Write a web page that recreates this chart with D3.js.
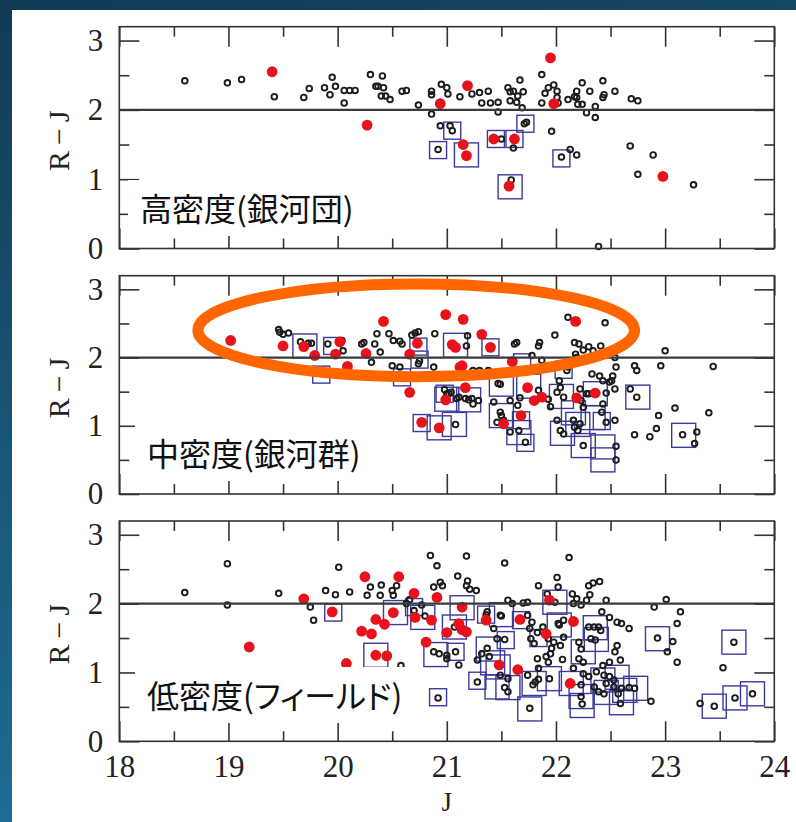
<!DOCTYPE html>
<html>
<head>
<meta charset="utf-8">
<script src="https://cdn.jsdelivr.net/npm/d3@7"></script>
<style>
  body { margin: 0; background: #fff; }
  svg { display: block; }
</style>
</head>
<body>
<script>
// ---- axis tick values and labels ----
const xTicks = [18, 19, 20, 21, 22, 23, 24];
const xMinorTicks = [18.5, 19.5, 20.5, 21.5, 22.5, 23.5];
const yTicks = [0, 1, 2, 3];
const yMinorTicks = [0.5, 1.5, 2.5];
const colourCut = 2;                       // R−J = 2 reference line
const xTitle = "J";
const yTitle = "R\u2009\u2212\u2009J";
const panelTitles = ["高密度(銀河団)", "中密度(銀河群)", "低密度(フィールド)"];

// ---- high density (clusters): [J, R−J] ----
const clusterGal = [
  [18.60,2.42],[18.99,2.39],[19.12,2.44],[19.42,2.19],[19.69,2.18],[19.74,2.31],[19.88,2.32],[19.93,2.22],
  [19.95,2.47],[19.98,2.34],[20.06,2.10],[20.06,2.28],[20.11,2.28],[20.16,2.28],[20.30,2.51],[20.35,2.34],
  [20.37,2.34],[20.41,2.49],[20.42,2.32],[20.40,2.20],[20.48,2.15],[20.44,2.20],[20.59,2.27],[20.63,2.28],
  [20.74,2.07],[20.86,2.27],[20.86,2.22],[20.86,1.94],[20.95,2.37],[21.00,2.32],[21.01,2.23],[20.94,1.77],
  [21.03,1.77],[21.05,1.70],[20.92,1.43],[21.12,2.19],[21.23,2.23],[21.30,2.25],[21.38,2.27],[21.32,2.10],
  [21.40,2.10],[21.47,2.11],[21.47,1.97],[21.56,2.32],[21.58,2.26],[21.61,2.27],[21.58,2.13],[21.64,2.11],
  [21.65,2.20],[21.67,2.43],[21.70,2.26],[21.69,2.03],[21.87,2.51],[21.93,2.32],[21.98,2.36],[21.90,2.24],
  [21.87,2.10],[22.01,2.27],[22.01,2.18],[22.02,2.10],[22.11,2.15],[22.19,2.18],[22.17,2.19],[22.19,2.27],
  [22.20,2.08],[22.24,2.39],[22.31,2.27],[22.24,2.08],[22.28,1.96],[22.36,2.05],[22.36,1.89],[22.43,2.42],
  [22.44,2.22],[22.43,2.18],[22.54,2.27],[22.69,2.16],[22.75,2.13],[21.96,1.69],[21.71,1.80],[21.73,1.82],
  [22.13,1.43],[22.19,1.35],[22.05,1.32],[21.61,1.45],[21.59,0.99],[21.50,1.58],[22.68,1.48],[22.89,1.35],
  [22.75,1.07],[23.26,0.92],[22.39,0.03]
];
const clusterRed = [
  [19.40,2.55],[20.27,1.78],[20.94,2.09],[21.19,2.35],[21.15,1.50],[21.18,1.34],[21.43,1.58],[21.62,1.58],
  [21.57,0.90],[21.98,2.09],[21.95,2.75],[22.98,1.04]
];
const clusterBox = [
  [20.92,1.42,"s"],[21.05,1.70,"s"],[21.18,1.35,"l"],[21.45,1.58,"s"],[21.62,1.58,"s"],[21.72,1.80,"s"],
  [22.05,1.30,"s"],[21.58,0.89,"l"]
];

// ---- intermediate density (groups) ----
const groupGal = [
  [19.46,2.41],[19.47,2.37],[19.50,2.34],[19.55,2.36],[19.66,2.23],[19.73,2.21],[19.76,2.21],[19.91,2.20],
  [20.04,2.25],[20.05,2.10],[20.22,2.20],[20.24,2.22],[20.39,2.08],[20.36,2.35],[20.47,2.35],[20.34,2.20],
  [20.31,1.93],[20.50,1.88],[20.57,1.86],[20.51,2.25],[20.57,2.24],[20.59,2.20],[20.68,2.33],[20.74,2.38],
  [20.71,2.36],[20.89,2.35],[20.75,1.95],[20.74,1.91],[20.88,1.86],[21.19,2.32],[21.18,2.17],[21.24,1.81],
  [21.30,1.81],[21.38,1.81],[20.98,1.53],[21.04,1.49],[21.09,1.40],[21.17,1.40],[21.23,1.40],[21.29,1.37],
  [21.08,1.02],[21.43,1.35],[21.58,1.37],[21.47,1.62],[21.49,1.20],[21.50,1.15],[21.46,1.05],[21.52,1.08],
  [21.66,0.93],[21.58,0.91],[21.72,0.76],[21.37,1.76],[21.49,1.61],[21.62,2.20],[21.64,2.22],[21.84,2.17],
  [21.85,2.22],[21.78,2.03],[21.87,1.96],[21.99,2.33],[22.11,2.59],[22.17,2.22],[22.21,2.20],[22.25,2.11],
  [22.30,2.16],[22.34,2.10],[22.41,2.17],[22.45,2.51],[22.18,2.05],[22.19,2.00],[22.54,2.00],[23.00,2.10],
  [22.01,1.49],[22.04,1.56],[22.07,1.42],[22.03,1.66],[22.10,1.81],[22.11,1.86],[22.22,1.54],[22.28,1.47],
  [22.01,1.08],[22.04,0.93],[22.16,1.08],[22.17,0.98],[22.22,1.03],[22.20,0.93],[22.07,0.88],[22.25,0.71],
  [22.33,1.76],[22.40,1.73],[22.52,1.73],[22.43,1.66],[22.51,1.66],[22.46,1.48],[22.55,1.86],[22.72,1.88],
  [22.74,1.81],[22.68,1.54],[22.74,1.42],[22.42,1.20],[22.46,1.05],[22.54,1.08],[22.55,0.70],[22.55,0.50],
  [22.72,0.87],[22.86,0.84],[22.92,0.96],[22.94,1.15],[23.09,1.26],[23.16,0.87],[23.29,0.91],[23.27,0.74],
  [23.40,1.19],[22.96,1.88],[23.44,1.87],[21.65,1.30],[21.67,1.41],[21.93,1.39],[21.95,1.28],[21.84,1.52],
  [22.30,1.47],[22.23,1.37],[22.25,1.27],[22.49,1.64],[22.54,1.54],[22.43,1.32],[21.00,1.47],[21.11,1.42],
  [21.20,1.38],[21.24,1.32],[21.02,1.47]
];
const groupRed = [
  [19.02,2.25],[19.50,2.17],[19.69,2.16],[19.79,2.03],[19.98,2.05],[20.02,2.23],[20.09,1.87],[20.26,2.06],
  [20.42,2.53],[20.66,2.05],[20.73,2.21],[20.66,1.49],[20.99,2.63],[21.15,2.56],[21.05,2.19],[21.08,2.15],
  [21.14,1.88],[21.12,1.86],[21.17,1.56],[20.99,1.38],[21.32,2.34],[21.40,2.15],[20.77,1.05],[20.93,0.97],
  [21.60,1.94],[21.74,1.56],[21.80,1.37],[21.87,1.42],[21.52,1.03],[21.68,1.15],[22.18,2.53],[22.19,1.41],
  [22.36,1.48]
];
const groupBox = [
  [19.70,2.17,"l"],[19.95,2.17,"s"],[19.85,1.75,"s"],[20.59,1.71,"s"],[20.74,2.16,"s"],[20.75,1.97,"s"],
  [21.08,2.18,"l"],[21.40,2.15,"s"],[21.00,1.39,"l"],[20.98,1.47,"s"],[21.20,1.38,"l"],[20.77,1.04,"s"],
  [20.93,0.97,"l"],[21.07,1.02,"l"],[21.50,1.15,"l"],[21.68,1.08,"s"],[21.66,0.90,"l"],[21.72,0.75,"s"],
  [21.50,1.61,"l"],[21.75,1.58,"l"],[22.05,1.43,"l"],[22.16,1.19,"l"],[22.20,1.02,"l"],[22.06,0.89,"l"],
  [22.25,0.71,"l"],[22.36,1.47,"l"],[22.34,1.12,"l"],[22.42,1.07,"s"],[22.43,0.69,"l"],[22.43,0.50,"l"],
  [22.75,1.42,"l"],[23.17,0.86,"l"],[22.07,1.82,"s"],[21.69,1.93,"s"]
];

// ---- low density (field) ----
const fieldGal = [
  [18.60,2.16],[18.99,2.58],[18.99,1.98],[19.46,2.15],[19.75,1.95],[19.78,1.76],[19.89,2.19],[19.98,2.13],
  [20.01,2.53],[20.11,2.17],[20.27,2.12],[20.30,2.24],[20.39,2.12],[20.40,2.27],[20.50,2.19],[20.54,2.26],
  [20.51,2.12],[20.63,2.00],[20.66,2.06],[20.77,1.98],[20.88,2.24],[20.91,2.55],[20.85,2.70],[20.94,2.31],
  [20.96,2.26],[21.18,2.69],[21.10,2.40],[21.18,2.26],[21.21,2.21],[21.27,2.19],[21.19,2.33],[21.53,2.59],
  [21.56,2.05],[21.60,2.00],[21.70,2.01],[21.74,2.02],[21.84,2.26],[21.92,2.14],[22.01,2.38],[22.02,2.24],
  [22.12,2.67],[22.15,2.14],[22.19,2.07],[22.28,2.05],[22.31,2.13],[22.30,2.26],[22.34,2.30],[22.40,2.32],
  [22.46,2.05],[22.16,2.00],[22.23,1.98],[22.90,1.95],[23.01,2.06],[23.14,1.88],[23.11,1.71],[23.07,1.45],
  [23.02,1.30],[23.11,1.15],[23.53,1.07],[22.87,0.58],[23.32,0.55],[21.37,1.88],[21.49,1.83],[21.43,1.64],
  [21.46,1.49],[21.53,1.48],[21.37,1.35],[21.32,1.27],[21.39,1.23],[21.28,1.18],[21.56,0.91],[21.53,0.78],
  [21.28,0.86],[21.74,1.83],[21.78,1.73],[21.76,1.64],[21.83,1.58],[21.77,1.49],[21.80,1.42],[21.88,1.66],
  [21.93,1.49],[21.98,1.44],[21.96,1.35],[21.83,1.20],[21.91,1.23],[21.93,1.15],[22.06,1.19],[21.84,1.06],
  [21.94,0.91],[21.79,0.82],[21.76,0.48],[21.84,0.90],[22.02,1.71],[22.07,1.76],[22.07,1.51],[22.04,1.39],
  [22.21,1.44],[22.23,1.34],[22.21,1.20],[22.25,1.15],[22.16,1.06],[22.30,1.66],[22.35,1.66],[22.39,1.66],
  [22.41,1.61],[22.32,1.49],[22.36,1.47],[22.42,1.88],[22.49,1.80],[22.56,1.73],[22.60,1.71],[22.67,1.64],
  [22.56,1.39],[22.54,1.30],[22.59,1.18],[22.49,1.15],[22.43,1.10],[22.25,0.98],[22.30,0.94],[22.37,1.01],
  [22.44,0.96],[22.49,0.94],[22.53,0.89],[22.23,0.82],[22.35,0.79],[22.39,0.72],[22.46,0.84],[22.53,0.79],
  [22.57,0.69],[22.60,0.77],[22.72,0.77],[22.24,0.54],[22.44,0.69],[22.59,0.55],[22.67,0.78],[21.08,1.30],
  [21.00,1.25],[21.11,1.11],[21.00,1.20],[20.88,1.30],[20.93,1.27],[20.58,1.10],[20.92,0.63],[21.56,0.72],
  [21.49,0.96],[21.74,0.96],[21.81,0.86],[21.95,1.27],[22.93,1.50],[23.45,0.51],[23.63,1.44],[23.64,0.63],
  [23.80,0.69],[20.70,1.90],[20.80,1.82],[21.07,1.66],[21.14,1.93],[21.36,1.84],[21.50,1.82],[21.68,1.76],
  [21.99,2.02],[22.03,1.69],[22.14,0.84],[22.23,0.65]
];
const fieldRed = [
  [19.19,1.37],[19.69,2.07],[19.95,1.88],[20.08,1.13],[20.25,2.39],[20.22,1.60],[20.31,1.56],[20.35,1.77],
  [20.43,1.70],[20.35,1.25],[20.45,1.24],[20.56,2.39],[20.51,1.87],[20.70,2.15],[20.71,1.80],[20.86,1.76],
  [20.81,1.44],[20.91,2.09],[21.00,1.58],[21.11,1.71],[21.14,1.95],[21.14,1.62],[21.18,1.59],[21.36,1.76],
  [21.48,1.11],[21.65,1.04],[21.67,1.77],[21.91,1.56],[21.94,2.05],[22.16,1.74],[22.13,0.84]
];
const fieldBox = [
  [19.96,1.87,"s"],[20.35,1.25,"l"],[20.53,1.87,"l"],[20.70,1.95,"s"],[20.78,1.80,"l"],[20.90,1.26,"l"],
  [21.07,1.66,"l"],[21.14,1.94,"l"],[21.08,1.30,"s"],[20.92,0.64,"s"],[21.36,1.84,"s"],[21.50,1.84,"l"],
  [21.54,1.47,"s"],[21.38,1.34,"l"],[21.42,1.14,"l"],[21.47,1.08,"l"],[21.28,0.88,"s"],[21.46,0.79,"l"],
  [21.56,0.78,"l"],[21.68,1.76,"s"],[21.76,0.47,"l"],[21.84,1.50,"s"],[21.80,0.84,"l"],[21.94,0.91,"l"],
  [21.99,2.02,"l"],[22.03,1.69,"l"],[22.14,0.84,"l"],[22.23,0.65,"l"],[22.24,0.52,"l"],[22.25,1.30,"l"],
  [22.36,1.65,"l"],[22.37,1.48,"l"],[22.43,0.89,"l"],[22.46,0.71,"l"],[22.56,0.93,"l"],[22.60,0.56,"l"],
  [22.63,0.74,"l"],[22.73,0.77,"l"],[22.93,1.49,"l"],[23.45,0.51,"l"],[23.63,1.44,"l"],[23.64,0.63,"l"],
  [23.80,0.69,"l"]
];

// highlighted region in the group panel (centre J, centre R−J, half-widths)
const groupHighlight = { cJ: 20.72, cRJ: 2.40, hJ: 2.0, hRJ: 0.68 };

// ---- drawing ----
const W = 796, H = 822;
const INK = "#333";
const serif = "'Liberation Serif', 'Times New Roman', serif";
const cjk = "'Noto Sans CJK JP', 'Noto Sans', sans-serif";

const svg = d3.select("body").append("svg")
  .attr("width", W).attr("height", H)
  .attr("viewBox", `0 0 ${W} ${H}`);

const defs = svg.append("defs");
const g1 = defs.append("linearGradient").attr("id", "edge")
  .attr("x1", 0).attr("y1", 0).attr("x2", 0.25).attr("y2", 1);
g1.append("stop").attr("offset", "0%").attr("stop-color", "#123a55");
g1.append("stop").attr("offset", "100%").attr("stop-color", "#1f6f98");

svg.append("rect").attr("width", W).attr("height", H).attr("fill", "url(#edge)");
svg.append("rect").attr("x", 12).attr("y", 10).attr("width", W - 12).attr("height", H - 10).attr("fill", "#fff");

const x = d3.scaleLinear().domain([18, 24]).range([119.3, 774.3]);
const boxSize = d3.scaleOrdinal().domain(["s", "l"]).range([17, 24]);

const panels = [
  { top: 26.7, bottom: 248.5, gal: clusterGal, red: clusterRed, box: clusterBox, title: panelTitles[0], tx: 140, ty: 221 },
  { top: 275.7, bottom: 494.0, gal: groupGal, red: groupRed, box: groupBox, title: panelTitles[1], tx: 147, ty: 466 },
  { top: 521.0, bottom: 741.3, gal: fieldGal, red: fieldRed, box: fieldBox, title: panelTitles[2], tx: 147, ty: 708 }
];

panels.forEach((p, i) => {
  const y = d3.scaleLinear().domain([0, 3.2]).range([p.bottom, p.top]);
  const g = svg.append("g");
  const [x0, x1] = x.range();

  // data marks
  g.append("g").selectAll("rect").data(p.box).join("rect")
    .attr("x", d => x(d[0]) - boxSize(d[2]) / 2)
    .attr("y", d => y(d[1]) - boxSize(d[2]) / 2)
    .attr("width", d => boxSize(d[2]))
    .attr("height", d => boxSize(d[2]))
    .attr("fill", "none").attr("stroke", "#3b3b9a").attr("stroke-width", 1.4);

  g.append("g").selectAll("circle").data(p.gal).join("circle")
    .attr("cx", d => x(d[0])).attr("cy", d => y(d[1])).attr("r", 2.8)
    .attr("fill", "none").attr("stroke", "#1c1c1c").attr("stroke-width", 1.9);

  g.append("g").selectAll("circle").data(p.red).join("circle")
    .attr("cx", d => x(d[0])).attr("cy", d => y(d[1])).attr("r", 5.4)
    .attr("fill", "#e8121c");

  // reference colour line
  g.append("line")
    .attr("x1", x0).attr("x2", x1).attr("y1", y(colourCut)).attr("y2", y(colourCut))
    .attr("stroke", "#3a3a3a").attr("stroke-width", 2.2);

  // tick marks on all four sides, pointing inward
  const tickGroup = (axis, tx, ty) => {
    const a = g.append("g").attr("transform", `translate(${tx},${ty})`).call(axis);
    a.select(".domain").remove();
    a.selectAll("line").attr("stroke", INK).attr("stroke-width", 1.6);
    a.selectAll("text").remove();
  };
  tickGroup(d3.axisRight(y).tickValues(yTicks).tickSize(20), x0, 0);
  tickGroup(d3.axisRight(y).tickValues(yMinorTicks).tickSize(10), x0, 0);
  tickGroup(d3.axisLeft(y).tickValues(yTicks).tickSize(20), x1, 0);
  tickGroup(d3.axisLeft(y).tickValues(yMinorTicks).tickSize(10), x1, 0);
  tickGroup(d3.axisBottom(x).tickValues(xTicks).tickSize(20), 0, p.top);
  tickGroup(d3.axisBottom(x).tickValues(xMinorTicks).tickSize(10), 0, p.top);
  tickGroup(d3.axisTop(x).tickValues(xTicks).tickSize(20), 0, p.bottom);
  tickGroup(d3.axisTop(x).tickValues(xMinorTicks).tickSize(10), 0, p.bottom);

  // frame
  g.append("rect").attr("x", x0).attr("y", p.top).attr("width", x1 - x0).attr("height", p.bottom - p.top)
    .attr("fill", "none").attr("stroke", INK).attr("stroke-width", 1.6);

  // y tick labels
  const yl = g.append("g").attr("transform", `translate(${x0},0)`)
    .call(d3.axisLeft(y).tickValues(yTicks).tickSize(0).tickPadding(16).tickFormat(d3.format("d")));
  yl.select(".domain").remove();
  yl.selectAll("text").attr("font-family", serif).attr("font-size", 31).attr("fill", "#222");

  // y title
  g.append("text")
    .attr("transform", `translate(58,${(p.top + p.bottom) / 2 + 3}) rotate(-90)`)
    .attr("text-anchor", "middle").attr("dominant-baseline", "central")
    .attr("font-family", serif).attr("font-size", 30).attr("fill", "#222")
    .text(yTitle);

  // panel title on a white backing
  const back = g.append("rect").attr("fill", "#fff");
  const t = g.append("text").attr("x", p.tx).attr("y", p.ty)
    .attr("font-family", cjk).attr("font-size", 32).attr("fill", "#111")
    .style("font-feature-settings", "'palt'")
    .text(p.title);
  const len = t.node().getComputedTextLength();
  back.attr("x", p.tx - 12).attr("y", p.ty - 41).attr("width", len + 24).attr("height", 56);

  if (i === 1) {
    const hl = groupHighlight;
    g.append("ellipse")
      .attr("cx", x(hl.cJ)).attr("cy", y(hl.cRJ))
      .attr("rx", x(hl.cJ + hl.hJ) - x(hl.cJ))
      .attr("ry", y(hl.cRJ) - y(hl.cRJ + hl.hRJ))
      .attr("fill", "none").attr("stroke", "#ff6600").attr("stroke-width", 11);
  }

  if (i === 2) {
    const xl = g.append("g").attr("transform", `translate(0,${p.bottom})`)
      .call(d3.axisBottom(x).tickValues(xTicks).tickSize(0).tickPadding(14).tickFormat(d3.format("d")));
    xl.select(".domain").remove();
    xl.selectAll("text").attr("font-family", serif).attr("font-size", 31).attr("fill", "#222");
    g.append("text").attr("x", x(21)).attr("y", 811).attr("text-anchor", "middle")
      .attr("font-family", serif).attr("font-size", 27).attr("fill", "#222").text(xTitle);
  }
});
</script>
</body>
</html>
